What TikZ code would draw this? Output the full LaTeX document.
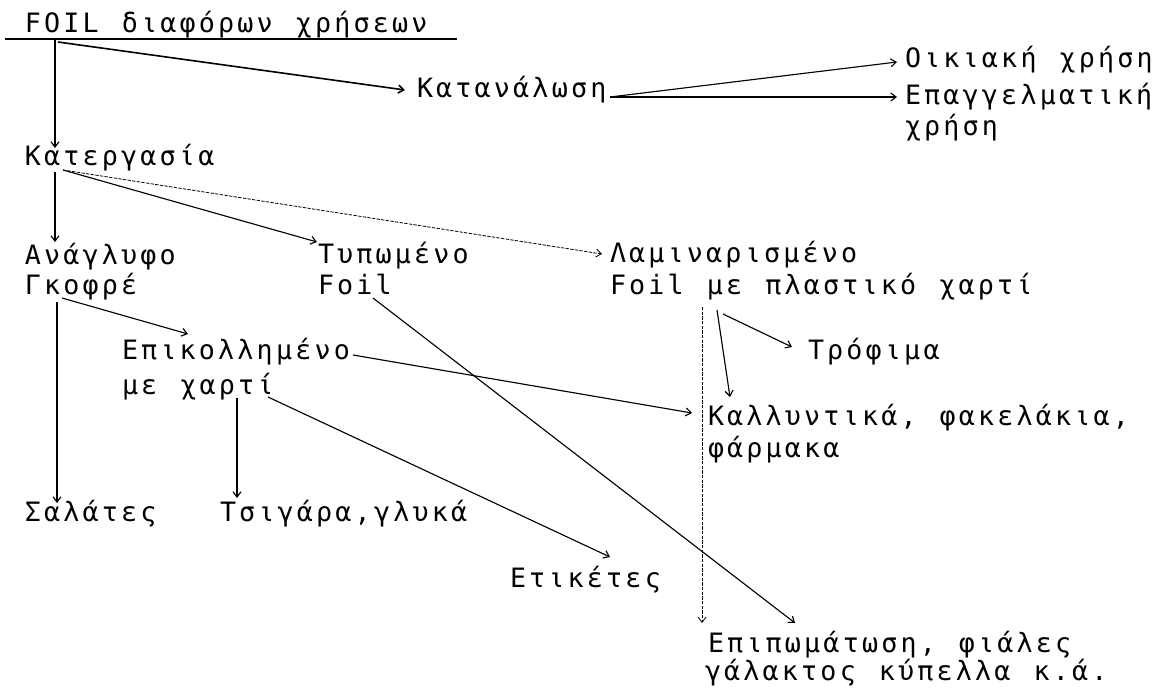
\documentclass[tikz,border=0pt]{standalone}
\usepackage{fontspec}
\newfontfamily\tw{DejaVu Sans Mono}[LetterSpace=12,WordSpace=1.2]
\usetikzlibrary{arrows.meta}
\begin{document}
\begin{tikzpicture}[x=0.75pt,y=-0.75pt,
  txt/.style={anchor=base west,inner sep=0pt,outer sep=0pt,font=\tw\fontsize{20}{23}\selectfont},
  arr/.style={line width=0.85pt,-{Straight Barb[length=4pt,width=6pt]}},
  thickarr/.style={arr,line width=1.2pt},
  faint/.style={arr,line width=0.6pt,dash pattern=on 2.5pt off 1pt},
  rule/.style={line width=1.4pt}]
\useasboundingbox[fill=white] (0,0) rectangle (1161,690);
% texts
\node[txt] (title) at (25,32) {FOIL διαφόρων χρήσεων};
\node[txt] (katan) at (417,97) {Κατανάλωση};
\node[txt] (oik) at (905,67) {Οικιακή χρήση};
\node[txt] (epag) at (905,104) {Επαγγελματική};
\node[txt] (epag2) at (905,135) {χρήση};
\node[txt] (katerg) at (25,165) {Κατεργασία};
\node[txt] (anag) at (25,264) {Ανάγλυφο};
\node[txt] (gkof) at (25,294) {Γκοφρέ};
\node[txt] (typ) at (318,263) {Τυπωμένο};
\node[txt] (typ2) at (318,294) {Foil};
\node[txt] (lam) at (610,262) {Λαμιναρισμένο};
\node[txt] (lam2) at (610,294) {Foil με πλαστικό χαρτί};
\node[txt] (epik) at (122,359) {Επικολλημένο};
\node[txt] (epik2) at (122,394) {με χαρτί};
\node[txt] (trof) at (808,359) {Τρόφιμα};
\node[txt] (kall) at (708,425) {Καλλυντικά, φακελάκια,};
\node[txt] (kall2) at (708,457) {φάρμακα};
\node[txt] (sal) at (25,521) {Σαλάτες};
\node[txt] (tsig) at (220,521) {Τσιγάρα,γλυκά};
\node[txt] (etik) at (510,587) {Ετικέτες};
\node[txt] (epip) at (708,652) {Επιπωμάτωση, φιάλες};
\node[txt] (epip2) at (705,680) {γάλακτος κύπελλα κ.ά.};
% title underline
\draw[rule] ([shift={(-20,7)}]title.base west) -- ([shift={(432,7)}]title.base west);
% connectors
\draw[arr] ([shift={(30,8)}]title.base west) -- ([shift={(30,-17)}]katerg.base west);
\draw[thickarr] ([shift={(33,10)}]title.base west) -- ([shift={(-12,-7)}]katan.base west);
\draw[arr] ([shift={(193,0)}]katan.base west) -- ([shift={(-8,-5)}]oik.base west);
\draw[arr] ([shift={(193,0)}]katan.base west) -- ([shift={(-8,-7)}]epag.base west);
\draw[arr] ([shift={(30,7)}]katerg.base west) -- ([shift={(30,-22)}]anag.base west);
\draw[arr] ([shift={(38,5)}]katerg.base west) -- ([shift={(-1,-21)}]typ.base west);
\draw[faint] ([shift={(38,5)}]katerg.base west) -- ([shift={(-8,-8)}]lam.base west);
\draw[arr] ([shift={(37,4)}]gkof.base west) -- ([shift={(66,-25)}]epik.base west);
\draw[arr] ([shift={(32,8)}]gkof.base west) -- ([shift={(32,-18)}]sal.base west);
\draw[arr] ([shift={(55,4)}]typ2.base west) -- ([shift={(87,-29)}]epip.base west);
\draw[faint] ([shift={(92,13)}]lam2.base west) -- ([shift={(-6,-29)}]epip.base west);
\draw[arr] ([shift={(107,16)}]lam2.base west) -- ([shift={(22,-28)}]kall.base west);
\draw[arr] ([shift={(113,20)}]lam2.base west) -- ([shift={(-16,-12)}]trof.base west);
\draw[arr] ([shift={(231,-4)}]epik.base west) -- ([shift={(-16,-12)}]kall.base west);
\draw[arr] ([shift={(115,4)}]epik2.base west) -- ([shift={(17,-23)}]tsig.base west);
\draw[arr] ([shift={(146,3)}]epik2.base west) -- ([shift={(100,-30)}]etik.base west);
\end{tikzpicture}
\end{document}
